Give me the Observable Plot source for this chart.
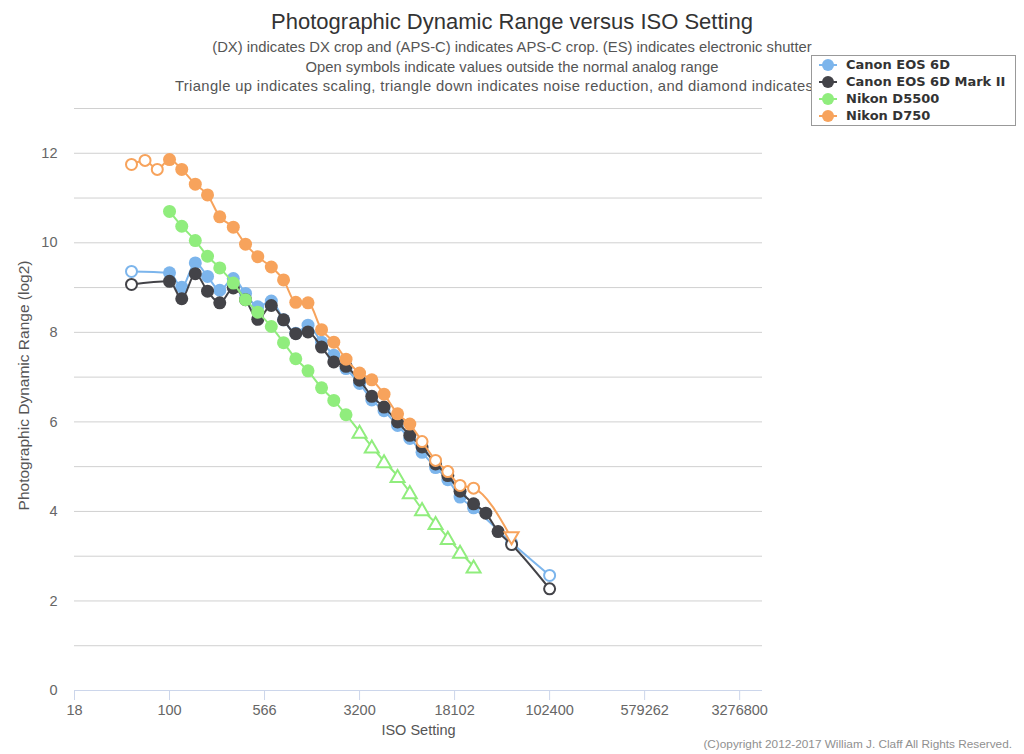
<!DOCTYPE html>
<html>
<head>
<meta charset="utf-8">
<script src="https://cdn.jsdelivr.net/npm/d3@7"></script>
<script src="https://cdn.jsdelivr.net/npm/@observablehq/plot@0.6"></script>
<style>
  body { margin: 0; background: #fff; font-family: "Liberation Sans", Arial, sans-serif; }
  #wrap { position: relative; width: 1024px; height: 754px; overflow: hidden; background: #fff; }
  #head { position: relative; height: 95px; }
  .title { position: absolute; left: 0; width: 1024px; top: 9px; text-align: center; font-size: 22px; color: #333; }
  .sub { position: absolute; left: 0; width: 1024px; text-align: center; font-size: 14.8px; color: #555; white-space: nowrap; }
  #legend { position: absolute; left: 811px; top: 55px; width: 203px; height: 69px; border: 1px solid #999; background: #fff; z-index: 5; }
  .item { position: absolute; left: 6px; height: 17px; display: flex; align-items: center; font-family: "DejaVu Sans", sans-serif; font-weight: bold; font-size: 13px; color: #333; white-space: nowrap; }
  .item svg { margin-right: 8px; }
  #copy { position: absolute; right: 12px; top: 737px; font-size: 11.8px; color: #909090; }
</style>
</head>
<body>
<div id="wrap">
  <div id="head">
    <div class="title" id="title"></div>
    <div class="sub" id="sub1" style="top:39px"></div>
    <div class="sub" id="sub2" style="top:59px"></div>
    <div class="sub" id="sub3" style="top:78px; text-align:left; left:175px; width:auto; letter-spacing:0.35px"></div>
  </div>
  <div id="chart"></div>
  <div id="legend"></div>
  <div id="copy"></div>
</div>
<script>
// ---- Text ----
const titleText = "Photographic Dynamic Range versus ISO Setting";
const subtitleLines = [
  "(DX) indicates DX crop and (APS-C) indicates APS-C crop. (ES) indicates electronic shutter",
  "Open symbols indicate values outside the normal analog range",
  "Triangle up indicates scaling, triangle down indicates noise reduction, and diamond indicates"
];
const xLabel = "ISO Setting";
const yLabel = "Photographic Dynamic Range (log2)";
const copyrightText = "(C)opyright 2012-2017 William J. Claff All Rights Reserved.";

// ---- Axes ----
const xTickValues = [17.68, 100, 565.69, 3200, 18101.93, 102400, 579262.3, 3276800];
const xTickLabels = ["18", "100", "566", "3200", "18102", "102400", "579262", "3276800"];
const xMax = 4970000;
const yTickValues = [0, 2, 4, 6, 8, 10, 12];
const yGridValues = [1, 2, 3, 4, 5, 6, 7, 8, 9, 10, 11, 12, 13];
const yMax = 13;

// ---- Series ----
const seriesNames = ["Canon EOS 6D", "Canon EOS 6D Mark II", "Nikon D5500", "Nikon D750"];
const seriesColors = ["#7cb5ec", "#434348", "#90ed7d", "#f7a35c"];

// markers: f = filled circle, o = open circle, t = open triangle up, v = open triangle down
const canon6dISO = [50, 100, 125, 160, 200, 250, 320, 400, 500, 640, 800, 1000, 1250, 1600, 2000, 2500, 3200, 4000, 5000, 6400, 8000, 10000, 12800, 16000, 20000, 25600, 51200, 102400];
const canon6dDR = [9.36, 9.33, 9.01, 9.55, 9.25, 8.94, 9.20, 8.87, 8.57, 8.70, 8.28, 7.98, 8.16, 7.78, 7.49, 7.19, 6.86, 6.49, 6.25, 5.92, 5.63, 5.32, 4.98, 4.71, 4.32, 4.08, 3.30, 2.57];
const canon6dMarker = ["o", "f", "f", "f", "f", "f", "f", "f", "f", "f", "f", "f", "f", "f", "f", "f", "f", "f", "f", "f", "f", "f", "f", "f", "f", "f", "o", "o"];

const canon6d2ISO = [50, 100, 125, 160, 200, 250, 320, 400, 500, 640, 800, 1000, 1250, 1600, 2000, 2500, 3200, 4000, 5000, 6400, 8000, 10000, 12800, 16000, 20000, 25600, 32000, 40000, 51200, 102400];
const canon6d2DR = [9.07, 9.14, 8.75, 9.31, 8.92, 8.66, 8.99, 8.73, 8.29, 8.60, 8.28, 7.97, 8.01, 7.67, 7.34, 7.24, 6.93, 6.57, 6.33, 6.00, 5.70, 5.44, 5.06, 4.80, 4.45, 4.17, 3.96, 3.55, 3.26, 2.27];
const canon6d2Marker = ["o", "f", "f", "f", "f", "f", "f", "f", "f", "f", "f", "f", "f", "f", "f", "f", "f", "f", "f", "f", "f", "f", "f", "f", "f", "f", "f", "f", "o", "o"];

const d5500ISO = [100, 125, 160, 200, 250, 320, 400, 500, 640, 800, 1000, 1250, 1600, 2000, 2500, 3200, 4000, 5000, 6400, 8000, 10000, 12800, 16000, 20000, 25600];
const d5500DR = [10.70, 10.37, 10.05, 9.70, 9.44, 9.10, 8.73, 8.45, 8.13, 7.77, 7.41, 7.14, 6.76, 6.48, 6.16, 5.78, 5.45, 5.12, 4.79, 4.43, 4.05, 3.74, 3.41, 3.10, 2.77];
const d5500Marker = ["f", "f", "f", "f", "f", "f", "f", "f", "f", "f", "f", "f", "f", "f", "f", "t", "t", "t", "t", "t", "t", "t", "t", "t", "t"];

const d750ISO = [50, 64, 80, 100, 125, 160, 200, 250, 320, 400, 500, 640, 800, 1000, 1250, 1600, 2000, 2500, 3200, 4000, 5000, 6400, 8000, 10000, 12800, 16000, 20000, 25600, 51200];
const d750DR = [11.75, 11.84, 11.64, 11.86, 11.64, 11.31, 11.07, 10.58, 10.35, 9.97, 9.69, 9.46, 9.17, 8.67, 8.66, 8.06, 7.78, 7.40, 7.09, 6.94, 6.62, 6.18, 5.95, 5.56, 5.14, 4.89, 4.58, 4.52, 3.40];
const d750Marker = ["o", "o", "o", "f", "f", "f", "f", "f", "f", "f", "f", "f", "f", "f", "f", "f", "f", "f", "f", "f", "f", "f", "f", "o", "o", "o", "o", "o", "v"];

const seriesISO = [canon6dISO, canon6d2ISO, d5500ISO, d750ISO];
const seriesDR = [canon6dDR, canon6d2DR, d5500DR, d750DR];
const seriesMarker = [canon6dMarker, canon6d2Marker, d5500Marker, d750Marker];

// ---- Build ----
document.getElementById("title").textContent = titleText;
document.getElementById("sub1").textContent = subtitleLines[0];
document.getElementById("sub2").textContent = subtitleLines[1];
document.getElementById("sub3").textContent = subtitleLines[2];
document.getElementById("copy").textContent = copyrightText;

const xTickRows = xTickValues.map((v, i) => ({v, label: xTickLabels[i]}));

const seriesMarks = [];
seriesNames.forEach((name, s) => {
  const rows = seriesISO[s].map((iso, i) => ({iso, dr: seriesDR[s][i], m: seriesMarker[s][i], name}));
  const color = seriesColors[s];
  seriesMarks.push(Plot.line(rows, {x: "iso", y: "dr", stroke: color, strokeWidth: 2, curve: "monotone-x"}));
  seriesMarks.push(Plot.dot(rows.filter(d => d.m === "f"), {x: "iso", y: "dr", r: 6.5, fill: color, stroke: "none"}));
  seriesMarks.push(Plot.dot(rows.filter(d => d.m === "o"), {x: "iso", y: "dr", r: 5.5, fill: "white", stroke: color, strokeWidth: 2}));
  seriesMarks.push(Plot.dot(rows.filter(d => d.m === "t"), {x: "iso", y: "dr", r: 5.2, symbol: "triangle", fill: "white", stroke: color, strokeWidth: 2, dy: 2}));
  seriesMarks.push(Plot.dot(rows.filter(d => d.m === "v"), {x: "iso", y: "dr", r: 5.2, symbol: "triangle", rotate: 180, fill: "white", stroke: color, strokeWidth: 2, dy: -2}));
});

const chart = Plot.plot({
  width: 1024,
  height: 659,
  marginLeft: 74,
  marginRight: 262,
  marginTop: 13,
  marginBottom: 64,
  style: {fontFamily: "Liberation Sans, Arial, sans-serif", fontSize: "14px", color: "#666", background: "white", overflow: "visible"},
  x: {type: "log", domain: [xTickValues[0], xMax]},
  y: {domain: [0, yMax]},
  marks: [
    Plot.gridY(yGridValues, {stroke: "#d0d0d0", strokeOpacity: 1}),
    Plot.ruleY([0], {stroke: "#ccd6eb", strokeWidth: 1}),
    Plot.axisX(xTickValues, {tickSize: 10, stroke: "#ccd6eb", tickFormat: () => "", label: null}),
    Plot.text(xTickRows, {x: "v", text: "label", frameAnchor: "bottom", lineAnchor: "middle", dy: 20, fontSize: 14.5, fill: "#666"}),
    Plot.axisY(yTickValues, {tickSize: 0, tickPadding: 17, fill: "#666", fontSize: 14.5, label: null}),
    ...seriesMarks,
    Plot.text([xLabel], {frameAnchor: "bottom", lineAnchor: "middle", textAnchor: "middle", dy: 40, fontSize: 14.5, fill: "#555", text: d => d}),
    Plot.text([yLabel], {frameAnchor: "left", textAnchor: "middle", lineAnchor: "middle", dx: -50, dy: -14, rotate: -90, fontSize: 15.5, fill: "#555", text: d => d})
  ]
});
document.getElementById("chart").appendChild(chart);

// ---- Legend ----
const legend = document.getElementById("legend");
seriesNames.forEach((name, s) => {
  const item = document.createElement("div");
  item.className = "item";
  item.style.top = (0 + s * 17) + "px";
  const c = seriesColors[s];
  item.innerHTML = `<svg width="20" height="14"><line x1="1" y1="7" x2="19" y2="7" stroke="${c}" stroke-width="2"/><circle cx="10" cy="7" r="6" fill="${c}"/></svg>`;
  const span = document.createElement("span");
  span.textContent = name;
  item.appendChild(span);
  legend.appendChild(item);
});
</script>
</body>
</html>
